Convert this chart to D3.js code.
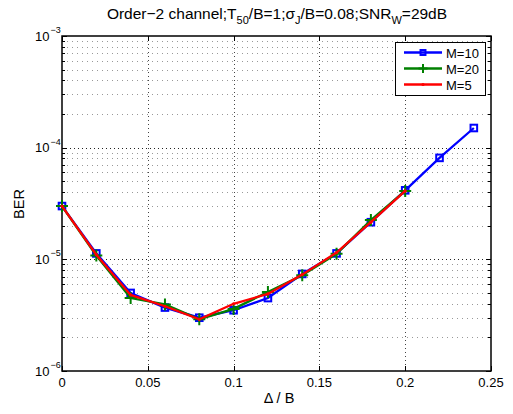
<!DOCTYPE html>
<html><head><meta charset="utf-8">
<script src="https://cdn.jsdelivr.net/npm/d3@7"></script>
<style>body{margin:0;background:#fff}svg{display:block}text{font-family:"Liberation Sans",Arial,sans-serif;fill:#000}</style>
</head><body><svg id="c" width="513" height="414"></svg>
<script>
const xM10 = [0,0.02,0.04,0.06,0.08,0.10,0.12,0.14,0.16,0.18,0.20,0.22,0.24];
const yM10 = [3.0e-5,1.13e-5,5.0e-6,3.7e-6,3.0e-6,3.5e-6,4.5e-6,7.4e-6,1.13e-5,2.15e-5,4.15e-5,8.1e-5,1.5e-4];
const xM20 = [0,0.02,0.04,0.06,0.08,0.10,0.12,0.14,0.16,0.18,0.20];
const yM20 = [3.0e-5,1.08e-5,4.5e-6,3.95e-6,2.9e-6,3.6e-6,5.1e-6,7.2e-6,1.12e-5,2.25e-5,4.1e-5];
const xM5 = [0,0.02,0.04,0.06,0.08,0.10,0.12,0.14,0.16,0.18,0.20];
const yM5 = [3.0e-5,1.1e-5,4.8e-6,3.8e-6,2.9e-6,4.0e-6,4.9e-6,7.3e-6,1.15e-5,2.15e-5,4.1e-5];
const xTicks = [0,0.05,0.1,0.15,0.2,0.25];
const xTickLabels = ["0","0.05","0.1","0.15","0.2","0.25"];
const yExps = [-6,-5,-4,-3];
const seriesNames = ["M=10","M=20","M=5"];
const seriesColors = ["#0000ff","#008000","#ff0000"];

const svg = d3.select("#c");
const L=62,R=491,T=36,B=371;
const x = d3.scaleLinear().domain([0,0.25]).range([L,R]);
const y = d3.scaleLog().domain([1e-6,1e-3]).range([B,T]);

// grid
const g = svg.append("g");
const minor = [];
for (let e=-6;e<-3;e++) for (let k=2;k<=9;k++) minor.push(k*Math.pow(10,e));
g.selectAll(".ym").data(minor).enter().append("line")
  .attr("x1",L).attr("x2",R).attr("y1",d=>Math.round(y(d))+0.5).attr("y2",d=>Math.round(y(d))+0.5)
  .attr("stroke","#999").attr("stroke-width",1).attr("stroke-dasharray","1,4");
g.selectAll(".yM").data(yExps.slice(1,3).map(e=>Math.pow(10,e))).enter().append("line")
  .attr("x1",L).attr("x2",R).attr("y1",d=>Math.round(y(d))+0.5).attr("y2",d=>Math.round(y(d))+0.5)
  .attr("stroke","#222").attr("stroke-width",1).attr("stroke-dasharray","1,3");
g.selectAll(".xM").data(xTicks.slice(1,5)).enter().append("line")
  .attr("y1",T).attr("y2",B).attr("x1",d=>Math.round(x(d))+0.5).attr("x2",d=>Math.round(x(d))+0.5)
  .attr("stroke","#444").attr("stroke-width",1).attr("stroke-dasharray","1,3");

// ticks inside
const tk = svg.append("g").attr("stroke","#000").attr("stroke-width",1);
xTicks.forEach(v=>{const px=Math.round(x(v))+0.5;
  tk.append("line").attr("x1",px).attr("x2",px).attr("y1",B).attr("y2",B-5);
  tk.append("line").attr("x1",px).attr("x2",px).attr("y1",T).attr("y2",T+5);});
yExps.forEach(e=>{const py=Math.round(y(Math.pow(10,e)))+0.5;
  tk.append("line").attr("x1",L).attr("x2",L+5).attr("y1",py).attr("y2",py);
  tk.append("line").attr("x1",R).attr("x2",R-5).attr("y1",py).attr("y2",py);});
minor.forEach(v=>{const py=Math.round(y(v))+0.5;
  tk.append("line").attr("x1",L).attr("x2",L+3).attr("y1",py).attr("y2",py);
  tk.append("line").attr("x1",R).attr("x2",R-3).attr("y1",py).attr("y2",py);});

// box
svg.append("rect").attr("x",L).attr("y",T).attr("width",R-L).attr("height",B-T)
  .attr("fill","none").attr("stroke","#000").attr("stroke-width",1.5);

// tick labels
svg.selectAll(".xl").data(xTicks).enter().append("text")
  .attr("x",d=>x(d)).attr("y",B+16).attr("text-anchor","middle").attr("font-size",13)
  .text((d,i)=>xTickLabels[i]);
yExps.forEach(e=>{
  const yy = y(Math.pow(10,e));
  svg.append("text").attr("x",49.5).attr("y",yy+4.5).attr("text-anchor","end").attr("font-size",13).text("10");
  svg.append("text").attr("x",50.5).attr("y",yy-3).attr("text-anchor","start").attr("font-size",9).text("\u2212"+Math.abs(e));
});

// labels
svg.append("text").attr("x",279).attr("y",403).attr("text-anchor","middle").attr("font-size",14.5).text("\u0394 / B");
svg.append("text").attr("transform","translate(24,"+(204)+") rotate(-90)").attr("text-anchor","middle").attr("font-size",14.5).text("BER");
const tt = svg.append("text").attr("x",277).attr("y",19).attr("text-anchor","middle").attr("font-size",15.5);
tt.append("tspan").text("Order\u22122 channel;T");
tt.append("tspan").attr("dy",5).attr("font-size",11).text("50");
tt.append("tspan").attr("dy",-5).text("/B=1;\u03c3");
tt.append("tspan").attr("dy",5).attr("font-size",11).text("J");
tt.append("tspan").attr("dy",-5).text("/B=0.08;SNR");
tt.append("tspan").attr("dy",5).attr("font-size",11).text("W");
tt.append("tspan").attr("dy",-5).text("=29dB");

// series
const line = d3.line().x(d=>x(d[0])).y(d=>y(d[1]));
const series = [
  {xs:xM10, ys:yM10, c:seriesColors[0], m:"sq"},
  {xs:xM20, ys:yM20, c:seriesColors[1], m:"plus"},
  {xs:xM5, ys:yM5, c:seriesColors[2], m:"dot"}];
function marker(sel, m, c, px, py, s){
  s = s||1;
  if (m==="sq") sel.append("rect").attr("x",px-3.3*s).attr("y",py-3.3*s).attr("width",6.6*s).attr("height",6.6*s).attr("fill","none").attr("stroke",c).attr("stroke-width",2);
  else if (m==="plus") { sel.append("path").attr("d",`M${px-6*s},${py}H${px+6*s}M${px},${py-6*s}V${py+6*s}`).attr("stroke",c).attr("stroke-width",2); }
  else sel.append("circle").attr("cx",px).attr("cy",py).attr("r",1.6).attr("fill",c);
}
series.forEach(s=>{
  const pts = s.xs.map((v,i)=>[v,s.ys[i]]);
  svg.append("path").datum(pts).attr("d",line).attr("fill","none").attr("stroke",s.c).attr("stroke-width",2.3);
  const mg = svg.append("g");
  pts.forEach(p=>marker(mg,s.m,s.c,x(p[0]),y(p[1])));
});

// legend
const lg = svg.append("g");
lg.append("rect").attr("x",395.5).attr("y",42.5).attr("width",90).attr("height",53).attr("fill","#fff").attr("stroke","#000").attr("stroke-width",1);
seriesNames.forEach((n,i)=>{
  const ly = 52.5+i*16;
  lg.append("line").attr("x1",404).attr("x2",442).attr("y1",ly).attr("y2",ly).attr("stroke",seriesColors[i]).attr("stroke-width",2.3);
  marker(lg,series[i].m,seriesColors[i],423,ly,0.75);
  lg.append("text").attr("x",446).attr("y",ly+5).attr("font-size",13).text(n);
});
</script></body></html>
